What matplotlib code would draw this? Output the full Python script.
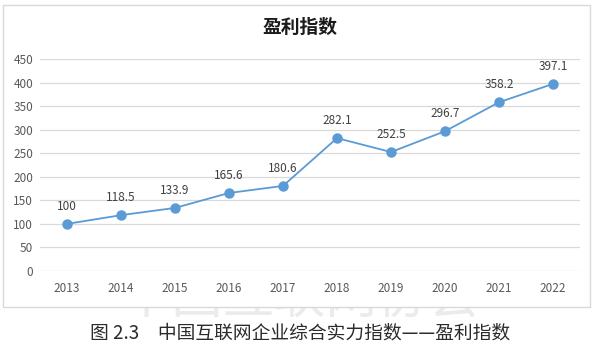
import matplotlib
matplotlib.use("Agg")
import matplotlib.pyplot as plt
from matplotlib.patches import Rectangle

plt.rcParams['font.family'] = ['Noto Sans CJK SC', 'DejaVu Sans']

years = ['2013', '2014', '2015', '2016', '2017', '2018', '2019', '2020', '2021', '2022']
profit_index = [100, 118.5, 133.9, 165.6, 180.6, 282.1, 252.5, 296.7, 358.2, 397.1]
value_labels = ['100', '118.5', '133.9', '165.6', '180.6', '282.1', '252.5', '296.7', '358.2', '397.1']
y_ticks = [0, 50, 100, 150, 200, 250, 300, 350, 400, 450]

fig = plt.figure(figsize=(6.0, 3.46), dpi=100)
fig.patch.set_facecolor('white')

# faint watermark, partly hidden behind the chart frame
fig.text(0.5, 1 - 298 / 346, '中国互联网协会', ha='center', va='center',
         fontsize=37, color='#ebebeb', fontweight='light', zorder=0)

# chart frame (white fill covers the upper part of the watermark)
fig.add_artist(Rectangle((3 / 600, 1 - 307 / 346), 587 / 600, 302 / 346,
                         transform=fig.transFigure, facecolor='white',
                         edgecolor='#d9d9d9', linewidth=1.0, zorder=1))

ax = fig.add_axes([40 / 600, 1 - 271 / 346, 540 / 600, 212 / 346])
ax.set_zorder(2)
ax.patch.set_alpha(0)
x = list(range(len(years)))
ax.plot(x, profit_index, color='#5b9bd5', linewidth=1.3, marker='o',
        markersize=6.5, markerfacecolor='#5b9bd5', markeredgecolor='#5b9bd5', zorder=3)

for xi, v, lab in zip(x, profit_index, value_labels):
    ax.annotate(lab, (xi, v), xytext=(0, 8), textcoords='offset points',
                ha='center', va='bottom', fontsize=8.5, color='#404040')

ax.set_xlim(-0.5, len(years) - 0.5)
ax.set_ylim(0, 450)
ax.set_yticks(y_ticks)
ax.set_xticks(x)
ax.set_xticklabels(years)
ax.grid(axis='y', color='#d9d9d9', linewidth=0.9)
ax.set_axisbelow(True)
for s in ax.spines.values():
    s.set_visible(False)
ax.tick_params(axis='both', length=0, labelsize=8.5, colors='#595959')
ax.tick_params(axis='x', pad=8)
ax.tick_params(axis='y', pad=5)

fig.text(0.5, 1 - 27 / 346, '盈利指数', ha='center', va='center',
         fontsize=13.5, fontweight='bold', color='#1a1a1a', zorder=3)

fig.text(0.5, 1 - 333 / 346, '图 2.3　中国互联网企业综合实力指数——盈利指数',
         ha='center', va='center', fontsize=13.5, color='#2b2b2b', zorder=3)

fig.savefig('out.png', dpi=100, facecolor='white')
